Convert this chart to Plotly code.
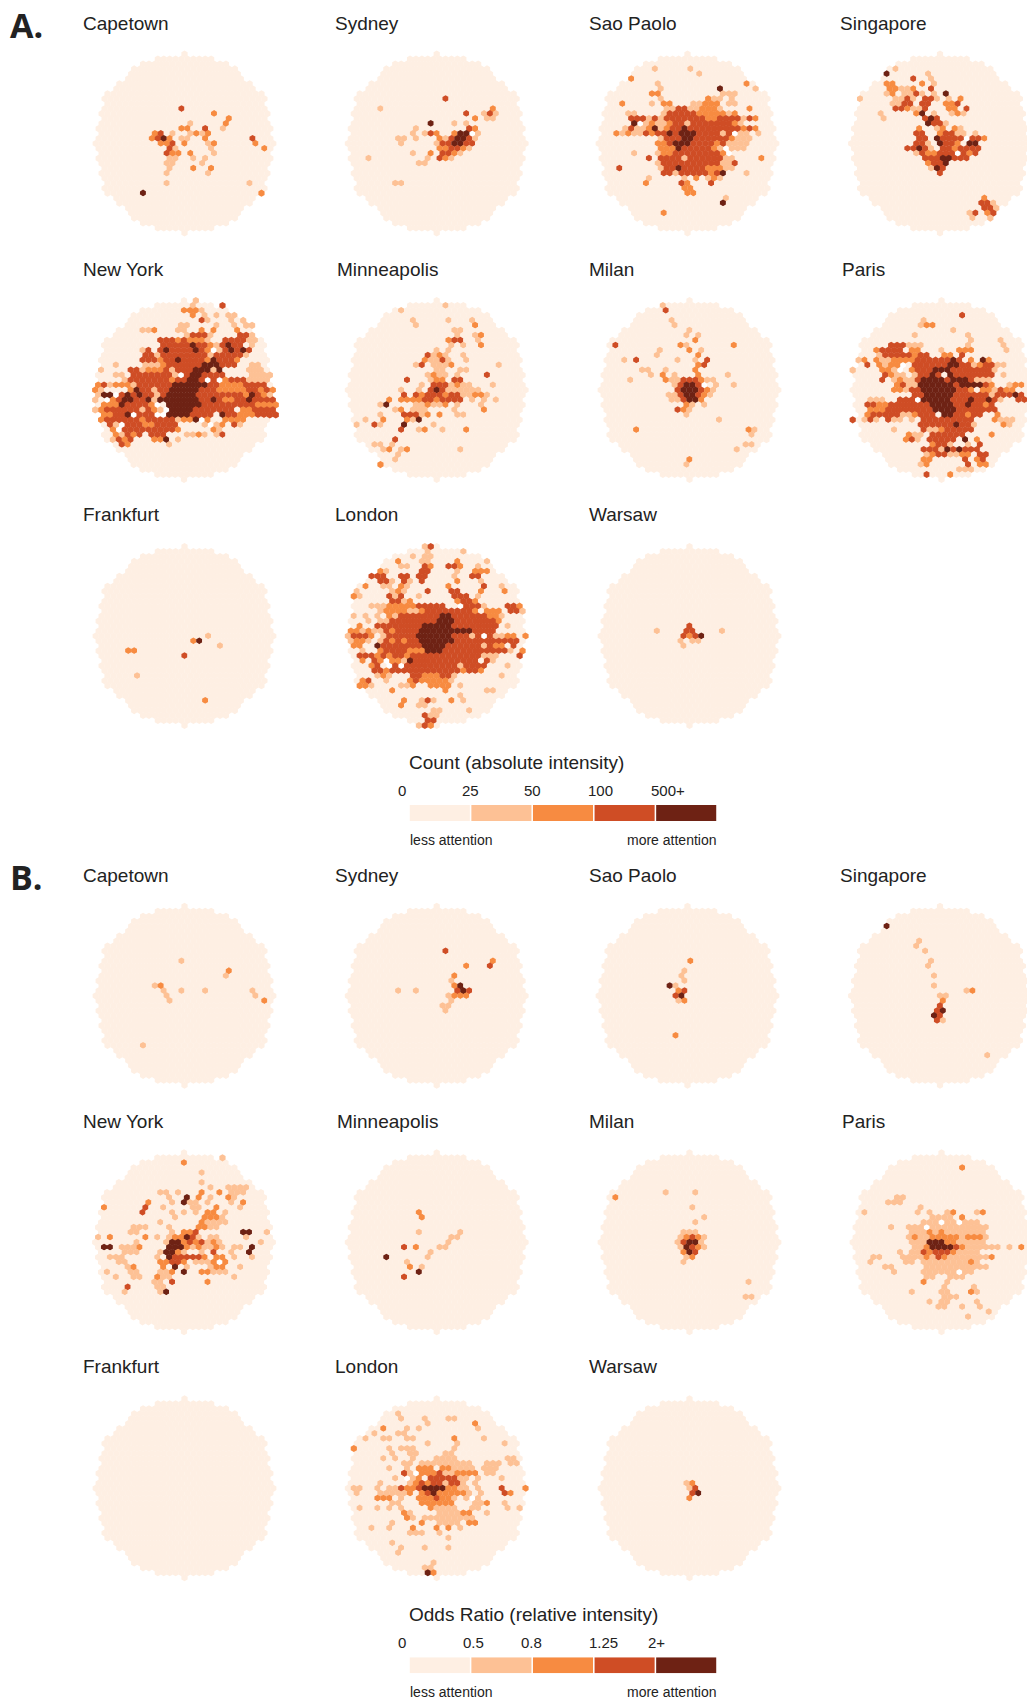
import plotly.graph_objects as go

W, H = 1027, 1701
FONT = "Liberation Sans"
INK = "#222222"
COLOURS = {"0": "#FEEFE3", "1": "#FDC195", "2": "#F78B41", "3": "#CF4D25", "4": "#6E2214"}

# hexes per row of the disc, from the middle row outward
ROW_COUNTS = [31, 30, 29, 30, 29, 28, 29, 28, 27, 28, 27, 24, 23, 20, 19, 18, 15, 10, 1]

# cells: (row, column, classes) ; 1..4 = colour class, . = background, w = empty
A_CAPETOWN = [(-7,-1,"3"),(-6,5,"2"),(-5,7,"2"),(-4,1,"1"),(-4,7,"2"),(-3,-1,"22"),(-3,3,"3"),(-3,6,"1"),
 (-2,-5,"23.1"),(-2,1,"1212"),(-1,-6,"2342"),(-1,-1,"11"),(-1,3,"2"),(-1,11,"3"),(0,-4,"223.2"),(0,4,"12"),(0,12,"2"),
 (1,-3,"31"),(1,4,"1"),(1,13,"2"),(2,-3,"322"),(2,1,"2"),(2,5,"1"),(3,-3,"11"),(3,1,"1"),(3,3,"1"),(4,-3,"11"),(4,3,"1"),
 (5,-3,"1"),(5,1,"2"),(5,4,"2"),(6,-3,"1"),(6,4,"1"),(8,-3,"1"),(8,11,"1"),(10,-7,"4"),(10,13,"2")]
A_SYDNEY = [(-9,1,"3"),(-7,-10,"1"),(-7,9,"2"),(-6,5,"3"),(-6,8,"1"),(-6,9,"31"),(-5,6,"2"),(-5,8,"11"),(-4,-1,"4"),(-4,3,"1"),(-4,5,"1"),
 (-3,-4,"1"),(-3,5,"32"),(-2,-4,"1"),(-2,-2,"132"),(-2,3,"244w1"),(-1,-7,"11"),(-1,-4,"1"),(-1,0,"21344"),(-1,5,"31"),(0,-6,"1"),(0,0,"133443"),(0,6,"3"),
 (1,0,"223334"),(1,4,"21"),(2,-4,"1"),(2,-1,"2"),(2,1,"3321"),(3,-12,"1"),(3,-2,"1"),(3,0,"321"),(4,-3,"11"),(8,-7,"11")]
A_SAOPAOLO = [(-15,-6,"1"),(-15,0,"1"),(-14,2,"1"),(-13,-10,"2"),(-12,-5,"1"),(-12,10,"2"),(-11,-5,"1"),(-11,5,"4"),(-11,11,"1"),
 (-10,-6,"22"),(-10,6,"111"),(-9,-5,"1"),(-9,3,"211"),(-9,7,"1"),(-8,-11,"2"),(-8,-6,"1"),(-8,-4,"22"),(-8,1,"11222"),(-8,7,"11"),
 (-7,-4,"11333"),(-7,0,"1"),(-7,1,"1222"),(-7,5,"1"),(-7,10,"2"),(-6,-10,"11"),(-6,-4,"1333332"),(-6,3,"2222"),(-6,7,"12"),
 (-5,-10,"3331313333333223333332"),(-5,9,"1"),(-4,-9,"4w121"),(-4,-4,"1233133333332"),(-4,9,"1"),
 (-3,-11,"131123"),(-3,-5,"1"),(-3,-6,"4"),(-3,-4,"23343"),(-3,1,"333333"),(-3,7,"332"),(-3,10,"32"),(-2,-12,"21211"),(-2,-7,"32334344433331"),(-2,7,"3w11"),(-2,12,"1"),
 (-1,-5,"1333443333332"),(-1,8,"111"),(0,-5,"22344433332"),(0,6,"31"),(0,8,"111"),(1,-5,"2223"),(1,-2,"4"),(1,-1,"33333"),(1,4,"21w111"),
 (2,-9,"1"),(2,-5,"122333333332"),(2,6,"2"),(2,7,"w"),(3,-7,"3"),(3,-5,"33333"),(3,-1,"1"),(3,0,"33333"),(3,5,"3"),(3,6,"1"),(3,7,"1"),(3,12,"2"),
 (4,-5,"1333333"),(4,2,"33333"),(4,6,"11"),(4,8,"3"),(5,-12,"3"),(5,-5,"1333"),(5,-2,"4"),(5,-1,"33332"),(5,3,"222"),(5,6,"11"),
 (6,-4,"331333"),(6,2,"3322"),(6,5,"34"),(6,10,"1"),(7,-7,"1"),(7,-1,"1"),(7,1,"2"),(7,3,"121"),
 (8,-7,"2"),(8,-1,"3"),(8,0,"2"),(8,4,"3"),(9,-1,"2"),(9,0,"2"),(10,0,"22"),(11,6,"1"),(12,6,"4"),(14,-4,"2")]
A_SINGAPORE = [(-15,-8,"1"),(-14,-9,"4"),(-14,-2,"1"),(-13,-5,"3"),(-13,-2,"1"),(-12,-9,"22"),(-12,-3,"2"),(-12,-1,"1"),
 (-11,-9,"22"),(-11,-7,"11"),(-11,-5,"2"),(-11,-2,"3"),(-10,-9,"1"),(-10,-8,"2"),(-10,-6,"11"),(-10,-4,"3"),(-10,-3,"1"),(-10,-1,"1"),(-10,1,"4"),
 (-9,-14,"1"),(-9,-8,"1"),(-9,-7,"1"),(-9,-6,"31"),(-9,-3,"33"),(-9,-1,"1"),(-9,1,"1"),(-9,3,"2"),(-8,-8,"11"),(-8,-6,"33"),(-8,-3,"33"),(-8,1,"223"),
 (-7,-8,"332"),(-7,-5,"11"),(-7,-3,"3"),(-7,1,"22"),(-7,4,"3"),(-6,-10,"1"),(-6,-4,"24"),(-6,-1,"1"),(-6,2,"121"),(-5,-10,"1"),(-5,-3,"343"),
 (-4,-2,"4331"),(-3,-4,"2"),(-3,-1,"12"),(-3,2,"21"),(-2,-4,"33"),(-2,0,"23311"),(-2,6,"1"),(-1,-4,"33"),(-1,-1,"43333w332"),
 (0,-4,"33"),(0,-2,"1"),(0,0,"4332"),(0,5,"44"),(1,-6,"3343"),(1,-2,"1"),(1,0,"332"),(1,3,"3333"),(2,-4,"1322"),(2,0,"333w333"),(2,5,"2"),
 (3,-3,"333"),(3,0,"44"),(3,2,"333"),(4,-2,"233"),(4,1,"4"),(5,-2,"1"),(5,-1,"43"),(6,0,"3"),
 (11,7,"2"),(12,7,"331"),(13,7,"331"),(14,5,"13"),(14,8,"23"),(15,5,"1"),(15,8,"1")]
A_NEWYORK = [(-18,2,"1"),(-17,1,"1"),(-17,6,"3"),(-16,0,"222"),(-16,3,"1"),(-15,1,"2"),(-15,3,"1"),(-15,5,"1"),(-15,7,"11"),(-14,3,"31"),(-14,8,"1"),(-14,10,"1"),
 (-13,-1,"11"),(-13,5,"1"),(-13,8,"1"),(-13,10,"11"),(-12,-7,"112"),(-12,-1,"11"),(-12,3,"2"),(-12,5,"2"),(-12,9,"2"),(-11,0,"1333"),(-11,4,"1"),(-11,9,"331"),
 (-10,-4,"33323"),(-10,1,"2221"),(-10,7,"3333"),(-10,11,"11"),(-9,-4,"33333433"),(-9,4,"21"),(-9,6,"3433"),(-9,11,"1"),
 (-8,-7,"1"),(-8,-6,"3"),(-8,-4,"34333343"),(-8,4,"2w1"),(-8,7,"34343"),(-7,-7,"33"),(-7,-5,"1"),(-7,-4,"333333"),(-7,2,"332"),(-7,4,"1"),(-7,5,"33333"),(-7,10,"1"),
 (-6,-7,"33"),(-6,-5,"32"),(-6,-3,"33"),(-6,-1,"4"),(-6,0,"3333"),(-6,4,"24"),(-6,6,"3332"),(-5,-12,"1"),(-5,-7,"1"),(-5,-6,"112"),(-5,-3,"3333"),(-5,1,"33"),(-5,3,"44"),(-5,5,"4333"),(-5,11,"11"),
 (-4,-14,"1"),(-4,-9,"33"),(-4,-7,"1"),(-4,-6,"222"),(-4,-3,"3"),(-4,-2,"1"),(-4,-1,"333"),(-4,2,"44"),(-4,4,"4"),(-4,5,"1"),(-4,6,"4"),(-4,11,"111"),
 (-3,-12,"11"),(-3,-9,"3333333"),(-3,-2,"1w"),(-3,0,"3"),(-3,1,"44"),(-3,3,"33"),(-3,5,"33"),(-3,11,"1111"),(-2,-10,"1"),(-2,-9,"3333333233"),(-2,1,"44"),(-2,3,"3"),(-2,4,"w3w2"),(-2,8,"3"),(-2,9,"33"),(-2,11,"1111"),
 (-1,-15,"231"),(-1,-12,"22"),(-1,-10,"21"),(-1,-8,"33333"),(-1,-3,"3"),(-1,-2,"444444"),(-1,4,"3"),(-1,5,"3"),(-1,6,"2222"),(-1,10,"3333"),
 (0,-15,"21"),(0,-9,"2"),(0,-8,"4"),(0,-7,"33"),(0,-5,"1"),(0,-4,"33"),(0,-2,"44444"),(0,3,"33"),(0,5,"3222"),(0,9,"2233"),(0,12,"3"),(0,13,"23"),(0,15,"2"),
 (1,-15,"1"),(1,-14,"44"),(1,-12,"w34343"),(1,-6,"3"),(1,-5,"1"),(1,-4,"3"),(1,-3,"44444"),(1,2,"33"),(1,4,"3"),(1,5,"33"),(1,7,"333"),(1,10,"24"),(1,12,"3"),(1,13,"2"),(1,14,"1"),
 (2,-15,"1"),(2,-13,"w"),(2,-12,"23"),(2,-10,"44"),(2,-8,"3"),(2,-7,"34"),(2,-5,"13"),(2,-4,"4"),(2,-3,"444444"),(2,3,"33"),(2,5,"4"),(2,6,"3"),(2,7,"2"),(2,8,"2"),(2,9,"33"),(2,11,"4"),(2,12,"3333"),
 (3,-14,"2"),(3,-13,"22"),(3,-11,"4"),(3,-10,"3333"),(3,-6,"21"),(3,-5,"w"),(3,-3,"44444"),(3,2,"4"),(3,3,"3333"),(3,7,"333"),(3,10,"33"),(3,12,"2222"),
 (4,-15,"1"),(4,-14,"2"),(4,-13,"3333"),(4,-9,"33"),(4,-7,"1"),(4,-6,"3"),(4,-5,"2"),(4,-4,"1w"),(4,-2,"4444"),(4,2,"3333"),(4,6,"33"),(4,8,"3"),(4,10,"22"),(4,12,"3333"),
 (5,-14,"222"),(5,-12,"3333"),(5,-10,"4"),(5,-9,"w3"),(5,-7,"3"),(5,-6,"3"),(5,-5,"ww"),(5,-3,"4444"),(5,1,"333"),(5,4,"3"),(5,6,"4"),(5,7,"33"),(5,9,"222"),(5,12,"3333"),
 (6,-14,"23"),(6,-12,"3333"),(6,-8,"3"),(6,-7,"2"),(6,-6,"33"),(6,-4,"333"),(6,-1,"1"),(6,0,"22"),(6,2,"4"),(6,3,"w"),(6,4,"2"),(6,7,"22"),(6,9,"22"),
 (7,-13,"3"),(7,-12,"1w"),(7,-10,"333"),(7,-7,"22"),(7,-5,"333"),(7,-2,"3"),(7,3,"1"),(7,4,"w"),(7,5,"1"),(7,6,"2"),(7,8,"3"),(7,9,"1"),
 (8,-12,"2"),(8,-11,"w"),(8,-10,"3"),(8,-9,"333"),(8,-6,"33333"),(8,-1,"2"),(8,5,"2"),(8,6,"1"),(9,-12,"2"),(9,-11,"1"),(9,-10,"3"),(9,-9,"23"),(9,-6,"333"),(9,0,"1"),(9,1,"121"),(9,5,"1"),(9,6,"3"),
 (10,-12,"1"),(10,-11,"3"),(10,-10,"2"),(10,-9,"3"),(10,-5,"22"),(10,-4,"2"),(10,-3,"4"),(10,-1,"1"),(11,-11,"32"),(11,-3,"1")]
A_MINNEAPOLIS = [(-17,1,"1"),(-16,-6,"1"),(-14,-4,"1"),(-14,2,"1"),(-14,6,"1"),(-13,-4,"1"),(-13,6,"2"),(-12,3,"11"),(-11,3,"1"),(-11,6,"1"),(-11,7,"2"),(-10,2,"233"),(-10,7,"1"),
 (-9,2,"1"),(-9,4,"1"),(-9,7,"2"),(-8,0,"1"),(-8,2,"1"),(-7,-2,"3"),(-7,-1,"121"),(-7,4,"1"),(-6,-2,"2"),(-6,-1,"113"),(-6,2,"1"),(-6,5,"1"),(-5,-4,"13"),(-5,-1,"1112"),(-5,10,"1"),
 (-4,0,"11"),(-4,4,"11"),(-3,-2,"12"),(-3,0,"11"),(-3,3,"1"),(-3,8,"3"),(-2,-5,"3"),(-2,-1,"122"),(-2,3,"33"),(-1,-3,"1"),(-1,-1,"333"),(-1,2,"1"),(-1,3,"211"),(-1,9,"1"),
 (0,-6,"1"),(0,-3,"1"),(0,-1,"34"),(0,1,"3"),(0,2,"111111"),(1,-6,"3"),(1,-4,"32333"),(1,1,"2"),(1,2,"3"),(1,3,"31"),(1,5,"1"),(1,6,"221"),
 (2,-8,"2"),(2,-6,"2222"),(2,-2,"33"),(2,0,"2"),(2,1,"3333"),(2,6,"1"),(2,8,"1"),(2,10,"1"),(3,-10,"14"),(3,-4,"112"),(3,-1,"11"),(3,1,"2"),(3,3,"1"),(3,7,"1"),
 (4,-7,"12"),(4,-4,"111"),(4,3,"1"),(4,8,"2"),(5,-10,"1"),(5,-6,"3331"),(5,-2,"2"),(5,0,"2"),(5,3,"11"),(6,-12,"1"),(6,-9,"2"),(6,-5,"214"),(7,-14,"1"),(7,-11,"31"),(7,-6,"4"),(7,-1,"1"),
 (8,-6,"3"),(8,-3,"12"),(8,1,"1"),(8,5,"2"),(10,-7,"3"),(11,-11,"11"),(11,-8,"1"),(12,-9,"12"),(12,-6,"12"),(12,4,"1"),(13,-7,"1"),(14,-7,"1"),(15,-10,"2")]
A_MILAN = [(-17,-5,"1"),(-16,-4,"3"),(-14,-3,"1"),(-13,-3,"1"),(-12,0,"1"),(-11,-1,"1"),(-11,1,"1"),(-10,1,"2"),(-9,-13,"3"),(-9,-2,"21"),(-9,7,"2"),(-8,-5,"1"),(-8,0,"2"),(-8,2,"1"),
 (-7,-6,"1"),(-7,1,"2"),(-6,-11,"1"),(-6,-9,"3"),(-6,-2,"1"),(-6,1,"1"),(-6,3,"3"),(-5,1,"23"),(-4,-8,"11"),(-4,-4,"1"),(-4,1,"2"),(-3,-7,"1"),(-3,-5,"2"),(-3,-3,"1"),(-3,1,"2"),(-3,6,"1"),
 (-2,-10,"1"),(-2,-4,"211333"),(-2,2,"211"),(-1,-3,"13443"),(-1,2,"w"),(-1,4,"1"),(-1,7,"1"),(0,-2,"344432"),(0,4,"1"),(1,-4,"11344321"),(2,-3,"11344"),(2,2,"2"),(3,-1,"21"),(3,2,"1"),
 (4,-2,"321"),(5,-1,"1"),(6,5,"1"),(8,-9,"2"),(8,10,"21"),(9,10,"1"),(11,9,"11"),(12,8,"1"),(14,0,"2"),(15,-1,"1")]
A_PARIS = [(-15,3,"3"),(-14,-3,"1"),(-13,-4,"122"),(-12,2,"1"),(-11,-5,"1"),(-11,4,"1"),(-10,5,"1"),(-10,10,"1"),(-9,-9,"333111"),(-9,4,"1"),(-9,10,"1"),(-8,-11,"2"),(-8,-10,"3333"),(-8,-5,"22"),(-8,0,"1"),(-8,3,"222"),(-8,11,"1"),
 (-7,-11,"1"),(-7,-10,"33333"),(-7,-5,"233"),(-7,0,"22"),(-7,3,"3"),(-6,-14,"12"),(-6,-11,"2"),(-6,-10,"11"),(-6,-8,"22"),(-6,-6,"22"),(-6,-4,"3333"),(-6,0,"3333"),(-6,2,"4"),(-6,3,"3"),(-6,5,"2"),(-6,7,"4"),(-6,8,"2"),
 (-5,-13,"3"),(-5,-11,"2"),(-5,-10,"1"),(-5,-9,"221"),(-5,-7,"w"),(-5,-5,"333333"),(-5,1,"44"),(-5,3,"33"),(-5,5,"1"),(-5,6,"2"),(-5,7,"33"),(-5,9,"11"),
 (-4,-15,"1"),(-4,-10,"221"),(-4,-7,"w"),(-4,-5,"2333"),(-4,-1,"444"),(-4,2,"33"),(-4,4,"33333"),(-4,9,"1"),(-3,-10,"321"),(-3,-7,"1"),(-3,-5,"133"),(-3,-2,"4"),(-3,-1,"3"),(-3,1,"4"),(-3,2,"33333"),(-3,7,"33"),(-3,10,"1"),
 (-2,-10,"3"),(-2,-8,"121"),(-2,-5,"1"),(-2,-4,"3"),(-2,-3,"4444"),(-2,1,"3"),(-2,2,"444"),(-2,5,"3"),(-2,6,"111"),(-1,-8,"2311"),(-1,-4,"4"),(-1,-3,"44444"),(-1,2,"3"),(-1,3,"4444"),(-1,7,"32"),(-1,11,"122"),
 (0,-8,"221"),(0,-5,"33"),(0,-3,"444444"),(0,3,"33"),(0,5,"2"),(0,7,"22"),(0,9,"1"),(0,10,"3"),(0,11,"22"),(1,-5,"3w"),(1,-4,"3"),(1,-3,"44444"),(1,1,"4"),(1,2,"33"),(1,4,"33"),(1,6,"33"),(1,8,"1"),(1,9,"3"),(1,10,"33"),(1,12,"4"),(1,13,"3"),
 (2,-12,"111"),(2,-7,"33"),(2,-5,"3w3"),(2,-3,"44444"),(2,2,"3"),(2,3,"33"),(2,5,"4"),(2,6,"33"),(2,8,"4"),(2,9,"3"),(2,10,"1"),(2,13,"33"),(3,-13,"33"),(3,-11,"2233"),(3,-7,"33"),(3,-5,"333"),(3,-2,"4444"),(3,2,"33"),(3,4,"4"),(3,5,"33"),(3,7,"23"),
 (4,-12,"22"),(4,-10,"2333"),(4,-6,"33"),(4,-4,"333"),(4,-1,"4444"),(4,3,"33"),(4,5,"3333"),(4,9,"3"),(5,-13,"23"),(5,-11,"33"),(5,-9,"33"),(5,-7,"11"),(5,-5,"23"),(5,-3,"33"),(5,0,"44"),(5,2,"3323"),(5,5,"33"),(5,9,"2"),
 (6,-15,"3"),(6,-13,"131"),(6,-9,"311"),(6,-5,"1"),(6,-3,"333"),(6,0,"3"),(6,1,"3"),(6,2,"33"),(6,4,"33"),(6,9,"2"),(6,10,"111"),(7,-4,"3"),(7,-3,"33333"),(7,2,"4"),(7,3,"33"),(7,5,"1"),(7,10,"21"),
 (8,-8,"1"),(8,-3,"3"),(8,-2,"11"),(8,0,"2"),(8,1,"33"),(8,3,"3"),(8,4,"33"),(9,-6,"211"),(9,-2,"333"),(9,1,"333"),(9,8,"2"),(10,-6,"231"),(10,-2,"33"),(10,0,"333"),(10,4,"4"),(10,6,"2"),
 (11,-2,"233"),(11,1,"1"),(11,4,"1"),(11,6,"3"),(12,-3,"333"),(12,0,"14"),(12,2,"3"),(12,3,"4"),(12,4,"33"),(12,6,"3"),(13,-3,"1233"),(13,1,"11"),(13,3,"22"),(13,6,"33"),(14,-3,"22"),(14,4,"3"),(14,6,"23"),
 (15,-4,"1"),(15,-3,"2"),(15,4,"3"),(15,6,"22"),(16,3,"111"),(17,-3,"3"),(17,1,"2")]
A_FRANKFURT = [(3,-10,"22"),(8,-8,"1"),(4,0,"3"),(1,1,"2"),(1,2,"4"),(0,4,"1"),(2,6,"1"),(13,3,"2")]
A_LONDON = [(-18,-2,"13"),(-17,-2,"1"),(-17,4,"1"),(-16,-4,"1"),(-16,-2,"11"),(-15,-7,"2"),(-15,-3,"11"),(-15,3,"2"),(-15,8,"1"),(-14,-6,"11"),(-14,-2,"32"),(-14,2,"33"),(-14,4,"2"),(-14,7,"1"),
 (-13,-10,"21"),(-13,-3,"33"),(-13,3,"1"),(-13,6,"222"),(-12,-11,"333"),(-12,-6,"33"),(-12,-3,"33"),(-12,3,"1"),(-12,6,"33"),(-11,-10,"33"),(-11,-8,"1"),(-11,-6,"31"),(-11,-3,"3"),(-11,3,"2"),(-11,7,"1"),
 (-10,-12,"2"),(-10,-9,"11"),(-10,-6,"21"),(-10,2,"2"),(-10,8,"3"),(-10,11,"1"),(-9,-14,"1"),(-9,-8,"121"),(-9,-2,"3"),(-9,2,"33"),(-9,7,"2"),(-9,11,"2"),(-8,-14,"21"),(-8,-8,"313"),(-8,-3,"1"),(-8,3,"33"),(-8,5,"3"),(-8,7,"1"),
 (-7,-8,"33"),(-7,-6,"12"),(-7,3,"233"),(-7,6,"2"),(-6,-11,"111"),(-6,-8,"2222"),(-6,-4,"233"),(-6,-1,"3"),(-6,0,"33"),(-6,4,"w"),(-6,5,"333"),(-6,8,"1"),(-6,12,"333"),(-6,14,"2"),
 (-5,-10,"1"),(-5,-9,"222"),(-5,-6,"21"),(-5,-4,"1233333333"),(-5,6,"2"),(-5,8,"222"),(-5,12,"33"),(-5,14,"1"),(-4,-14,"1"),(-4,-12,"1"),(-4,-10,"1"),(-4,-8,"21"),(-4,-6,"33333"),(-4,-1,"33"),(-4,1,"44"),(-4,3,"33333"),(-4,8,"322"),(-4,11,"1"),
 (-3,-12,"1"),(-3,-10,"11"),(-3,-8,"33"),(-3,-6,"333333"),(-3,0,"444"),(-3,3,"333333"),(-3,9,"32"),(-2,-13,"2"),(-2,-10,"3333"),(-2,-6,"333"),(-2,-3,"3"),(-2,-2,"44444"),(-2,3,"333333"),(-2,9,"33"),(-2,12,"1"),
 (-1,-15,"22"),(-1,-13,"1211"),(-1,-9,"32"),(-1,-7,"3333"),(-1,-3,"44444444"),(-1,5,"4"),(-1,6,"3333"),(0,-15,"1"),(0,-14,"33"),(0,-12,"32"),(0,-9,"1"),(0,-8,"33333"),(0,-3,"444444"),(0,3,"333"),(0,6,"1"),(0,7,"33"),(0,8,"w"),(0,9,"3"),(0,10,"11"),(0,12,"22"),(0,15,"2"),
 (1,-15,"1"),(1,-14,"22"),(1,-12,"1"),(1,-10,"1"),(1,-9,"3"),(1,-8,"2"),(1,-7,"32"),(1,-5,"33"),(1,-3,"4444"),(1,1,"44"),(1,3,"33333"),(1,8,"3"),(1,9,"33"),(1,11,"33"),(1,13,"3"),
 (2,-14,"22"),(2,-10,"4"),(2,-9,"3333"),(2,-5,"33"),(2,-3,"3"),(2,-2,"4444"),(2,2,"3333"),(2,6,"33"),(2,8,"1"),(2,9,"3"),(2,10,"22"),(2,13,"3"),(3,-13,"1"),(3,-10,"23"),(3,-8,"3333"),(3,-5,"22"),(3,-3,"2"),(3,-2,"444"),(3,1,"333"),(3,4,"3333"),(3,8,"33"),(3,10,"33"),(3,12,"1"),(3,14,"2"),
 (4,-13,"3333"),(4,-10,"2"),(4,-9,"3"),(4,-8,"2"),(4,-7,"33"),(4,-5,"2"),(4,-4,"33"),(4,-2,"33333"),(4,3,"33333"),(4,8,"1"),(4,9,"11"),(4,14,"3"),(5,-13,"2"),(5,-11,"32"),(5,-9,"w"),(5,-8,"22"),(5,-6,"1"),(5,-5,"4"),(5,-4,"333333"),(5,2,"333"),(5,5,"33"),(5,8,"31"),
 (6,-11,"23"),(6,-8,"w3"),(6,-6,"w"),(6,-5,"3"),(6,-4,"3333333"),(6,3,"31"),(6,5,"33"),(6,7,"33"),(6,12,"1"),(7,-11,"33"),(7,-9,"23"),(7,-7,"3333"),(7,-3,"3333333"),(7,4,"2"),(7,5,"33"),(7,7,"2"),
 (8,-10,"121"),(8,-4,"33"),(8,-2,"222"),(8,1,"33"),(8,3,"1"),(8,11,"1"),(9,-13,"23"),(9,-9,"1"),(9,-5,"23"),(9,-3,"22222"),(9,2,"1"),(10,-13,"22"),(10,-11,"1"),(10,-6,"11"),(10,-4,"2"),(10,-1,"222"),(10,2,"2"),(10,4,"1"),
 (11,-8,"2"),(11,1,"2"),(11,8,"11"),(12,4,"1"),(13,-6,"2"),(13,-3,"131"),(13,2,"2"),(13,4,"1"),(14,-6,"2"),(14,-3,"11"),(15,-1,"11"),(15,5,"1"),(16,-2,"3"),(16,-1,"11"),(17,-2,"33"),(18,-3,"1"),(18,-2,"32")]
A_WARSAW = [(-2,0,"3"),(-1,-6,"1"),(-1,-1,"33"),(-1,5,"1"),(0,-1,"3"),(0,0,"2"),(0,1,"3"),(0,2,"4"),(1,-2,"1"),(1,0,"11"),(2,-1,"1")]

B_CAPETOWN = [(-7,-1,"1"),(-5,7,"2"),(-4,7,"1"),(-2,-5,"1"),(-2,-4,"2"),(-1,-4,"1"),(-1,-1,"1"),(-1,3,"1"),(-1,11,"1"),(0,-3,"1"),(0,12,"1"),(1,-3,"1"),(1,13,"2"),(10,-7,"1")]
B_SYDNEY = [(-9,1,"3"),(-7,9,"2"),(-6,9,"3"),(-6,5,"2"),(-4,3,"2"),(-3,2,"1"),(-2,3,"2"),(-2,4,"4"),(-1,-7,"1"),(-1,-4,"1"),(-1,3,"3"),(-1,4,"4"),(-1,5,"3"),(0,2,"1"),(0,3,"222"),(1,2,"1"),(2,1,"11"),(3,1,"1")]
B_SAOPAOLO = [(-7,0,"2"),(-5,-1,"1"),(-4,-1,"1"),(-3,-1,"1"),(-2,-3,"4"),(-2,-2,"1"),(-1,-2,"23"),(0,-2,"34"),(1,-2,"12"),(8,-2,"2")]
B_SINGAPORE = [(-14,-9,"4"),(-11,-4,"1"),(-10,-4,"1"),(-9,-3,"1"),(-7,-2,"1"),(-6,-2,"1"),(-4,-1,"1"),(-2,-1,"1"),(-1,4,"1"),(-1,5,"2"),(0,0,"1"),(0,1,"1"),(1,0,"2"),(2,0,"3"),(3,-1,"3"),(3,0,"4"),(4,-1,"4"),(4,0,"3"),(5,-1,"3"),(5,0,"1"),(12,8,"1")]
B_NEWYORK = [(-17,6,"1"),(-16,0,"2"),(-14,3,"1"),(-12,3,"1"),(-11,4,"1"),(-11,7,"1111"),(-10,-4,"11"),(-10,-1,"1"),(-10,3,"2"),(-10,6,"2"),(-10,8,"111"),(-9,-3,"1"),(-9,0,"4"),(-9,2,"2"),(-9,4,"1"),(-9,7,"2"),(-9,8,"1"),
 (-8,-6,"2"),(-8,-2,"1"),(-8,0,"411"),(-8,4,"1"),(-8,8,"1"),(-8,10,"2"),(-7,-14,"2"),(-7,-7,"3"),(-7,-4,"1"),(-7,1,"11"),(-7,5,"2"),(-7,9,"1"),(-6,-7,"3"),(-6,-2,"1"),(-6,0,"1"),(-6,2,"1"),(-6,4,"2"),(-6,5,"2"),(-6,7,"1"),
 (-5,-2,"1"),(-5,3,"222"),(-5,6,"1"),(-4,-4,"1"),(-4,3,"2"),(-4,4,"1111"),(-3,-9,"111"),(-3,-3,"1"),(-3,2,"22"),(-3,4,"11"),(-2,-9,"11"),(-2,-2,"1"),(-2,0,"223"),(-2,10,"44"),(-2,14,"1"),
 (-1,-15,"1"),(-1,-13,"2"),(-1,-7,"2"),(-1,-5,"1"),(-1,-3,"122"),(-1,0,"431"),(-1,4,"11"),(-1,10,"1"),(0,-8,"1"),(0,-3,"1"),(0,-2,"44"),(0,0,"2"),(0,1,"323"),(0,4,"12"),(0,6,"1"),(0,13,"1"),
 (1,-14,"44"),(1,-11,"1111"),(1,-8,"2"),(1,-3,"444"),(1,0,"2"),(1,1,"12112"),(1,6,"1"),(1,8,"11"),(1,11,"4"),(2,-10,"111"),(2,-4,"1"),(2,-3,"44"),(2,-1,"2"),(2,0,"1"),(2,3,"1"),(2,5,"3"),(2,8,"1"),(2,11,"4"),
 (3,-13,"11"),(3,-11,"1"),(3,-5,"1"),(3,-3,"433333"),(3,3,"2"),(3,5,"22"),(3,8,"1"),(3,11,"1"),(4,-11,"11"),(4,-4,"2"),(4,-3,"233"),(4,0,"2"),(4,2,"1"),(4,3,"11"),(4,5,"2"),(4,6,"w"),(4,7,"2"),
 (5,-10,"12"),(5,-4,"2"),(5,-2,"4"),(5,0,"1"),(5,4,"1"),(5,5,"22"),(5,9,"1"),(6,-13,"1"),(6,-9,"11"),(6,-4,"1"),(6,-3,"1"),(6,-2,"2"),(6,0,"4"),(6,3,"22"),(6,5,"111"),(7,-12,"1"),(7,-9,"11"),(7,-5,"2"),(7,-4,"11"),(7,8,"1"),
 (8,-5,"11"),(8,-2,"3"),(8,4,"2"),(9,-10,"3"),(9,-5,"11"),(10,-10,"1"),(10,-3,"4"),(10,-4,"1")]
B_MINNEAPOLIS = [(-6,-3,"2"),(-5,-3,"2"),(-2,4,"1"),(-1,2,"11"),(0,2,"1"),(1,0,"11"),(2,-1,"1"),(3,-2,"1"),(-2,-3,"1"),(1,-6,"3"),(1,-4,"2"),(3,-9,"4"),(4,-5,"1"),(5,-5,"2"),(5,-3,"1"),(6,-3,"4"),(7,-6,"3")]
B_MILAN = [(-9,-13,"2"),(-10,-4,"1"),(-10,1,"1"),(-7,0,"1"),(-5,2,"1"),(-4,1,"1"),(-2,-1,"111"),(-1,-2,"1"),(-1,-1,"2321"),(0,-2,"1"),(0,-1,"3441"),(1,-2,"1"),(1,-1,"4321"),(2,-1,"243"),(3,-1,"12"),(4,-1,"1"),(8,10,"1"),(11,9,"11")]
B_PARIS = [(-15,3,"2"),(-9,-8,"11"),(-8,-9,"111"),(-7,-4,"1"),(-6,-13,"1"),(-6,-4,"1"),(-6,-2,"1"),(-6,1,"1"),(-6,2,"2"),(-6,6,"1"),(-6,7,"2"),(-5,-2,"1111"),(-5,3,"2"),
 (-4,-3,"111w11w111"),(-3,-9,"1"),(-3,-6,"111w"),(-3,-2,"1111111111"),(-2,-5,"111"),(-2,-2,"2"),(-2,-1,"1"),(-2,0,"2"),(-2,1,"1111111"),(-1,-6,"11"),(-1,-5,"2"),(-1,-4,"11"),(-1,-2,"22"),(-1,0,"22"),(-1,2,"2"),(-1,3,"1"),(-1,4,"222"),(-1,7,"1"),
 (0,-5,"11"),(0,-3,"1"),(0,-2,"4"),(0,-1,"44"),(0,1,"22"),(0,3,"11111"),(1,-5,"1"),(1,-4,"1"),(1,-3,"2"),(1,-2,"44"),(1,0,"44"),(1,2,"3"),(1,3,"2"),(1,4,"1111"),(1,8,"11"),(1,11,"1"),(1,13,"2"),
 (2,-7,"1"),(2,-5,"11"),(2,-3,"3"),(2,-2,"2"),(2,-1,"33"),(2,1,"3"),(2,2,"2"),(2,3,"1111"),(3,-12,"11"),(3,-7,"11"),(3,-5,"11"),(3,-3,"2"),(3,-2,"1"),(3,-1,"3"),(3,0,"2"),(3,1,"1111111"),(3,8,"2"),
 (4,-12,"1"),(4,-6,"11"),(4,-3,"1111"),(4,1,"1111"),(4,5,"2"),(4,6,"1"),(5,-10,"11"),(5,-3,"1111111"),(5,4,"111"),(5,7,"1"),(6,-8,"1"),(6,-3,"111111"),(6,3,"w"),(6,4,"11"),(7,-3,"11"),(7,1,"111"),(8,-3,"2"),(8,1,"1"),
 (9,0,"1"),(9,5,"1"),(10,-5,"1"),(10,0,"11"),(10,5,"21"),(11,0,"111"),(12,-2,"1"),(12,0,"11"),(12,6,"1"),(13,-1,"11"),(13,3,"1"),(13,6,"1"),(14,8,"1"),(15,4,"1")]
B_FRANKFURT = []
B_LONDON = [(-15,-7,"1"),(-14,-6,"1"),(-14,-2,"1"),(-14,2,"11"),(-13,-2,"1"),(-13,6,"2"),(-12,-9,"2"),(-12,-5,"1"),(-12,-3,"1"),(-12,7,"1"),(-11,-11,"1"),(-11,-7,"11"),(-10,-12,"1"),(-10,-9,"11"),(-10,-5,"11"),(-10,3,"2"),(-10,8,"1"),
 (-9,-2,"1"),(-9,3,"1"),(-9,11,"1"),(-8,-14,"2"),(-8,-8,"1"),(-8,-6,"111"),(-8,3,"1"),(-7,-8,"1"),(-7,-5,"11"),(-7,1,"11"),(-6,-9,"1"),(-6,-7,"1"),(-6,-4,"1"),(-6,0,"1111"),(-6,12,"11"),(-5,-6,"11"),(-5,-3,"111"),(-5,0,"1111"),(-5,4,"11"),(-5,8,"111"),(-5,12,"11"),
 (-4,-8,"1"),(-4,-5,"1"),(-4,-3,"222"),(-4,1,"22"),(-4,3,"1111"),(-4,8,"111"),(-3,-6,"3"),(-3,-5,"1w"),(-3,-3,"222"),(-3,0,"3"),(-3,1,"11"),(-3,3,"2222"),(-3,8,"11"),(-2,-7,"1"),(-2,-5,"w1"),(-2,-3,"2"),(-2,-1,"3"),(-2,0,"3333"),(-2,4,"11"),(-2,7,"1"),(-2,11,"1"),
 (-1,-10,"1"),(-1,-5,"1"),(-1,-4,"2"),(-1,-3,"32"),(-1,-1,"33"),(-1,1,"1"),(-1,2,"33"),(-1,4,"1"),(-1,6,"1"),(0,-14,"11"),(0,-10,"1"),(0,-8,"11"),(0,-6,"3"),(0,-5,"22"),(0,-3,"3"),(0,-2,"444"),(0,1,"4"),(0,2,"22"),(0,4,"11"),(0,7,"1"),(0,11,"3"),(0,15,"2"),
 (1,-14,"1"),(1,-10,"11"),(1,-8,"11"),(1,-6,"1"),(1,-5,"2"),(1,-3,"2"),(1,-2,"3"),(1,-1,"42"),(1,1,"2222"),(1,5,"1"),(1,7,"1"),(1,11,"32"),(2,-10,"222"),(2,-6,"1"),(2,-3,"2222"),(2,0,"3"),(2,1,"22"),(2,3,"1"),(2,5,"1"),(2,6,"w"),(2,7,"1"),
 (3,-8,"11"),(3,-3,"2222"),(3,1,"22"),(3,6,"11"),(3,8,"2"),(3,11,"1"),(4,-13,"1"),(4,-10,"1"),(4,-8,"1"),(4,-6,"1"),(4,-1,"2"),(4,0,"1111"),(4,6,"11"),(4,12,"1"),(4,14,"1"),(5,-6,"2"),(5,-5,"1"),(5,0,"1111"),(5,4,"22"),(5,8,"1"),
 (6,-5,"2"),(6,-4,"1"),(6,-2,"111"),(6,1,"11111"),(6,6,"1"),(7,-8,"1"),(7,-3,"2"),(7,0,"1111"),(7,5,"22"),(8,-11,"1"),(8,-8,"1"),(8,-4,"2"),(8,0,"2"),(8,2,"2"),(8,4,"1"),(9,-5,"111"),(9,0,"1"),
 (10,2,"1"),(11,-8,"1"),(12,-6,"1"),(12,-2,"1"),(12,2,"1"),(13,-7,"1"),(15,-1,"1"),(16,-2,"11"),(17,-2,"4"),(17,-1,"2"),(16,-1,"1")]
B_WARSAW = [(-1,-1,"1"),(-1,0,"2"),(0,0,"1"),(0,1,"3"),(1,0,"3"),(1,1,"4"),(2,0,"2")]

ROW_1 = ["Capetown", "Sydney", "Sao Paolo", "Singapore"]
ROW_2 = ["New York", "Minneapolis", "Milan", "Paris"]
ROW_3 = ["Frankfurt", "London", "Warsaw"]
PANEL_CELLS_A = [A_CAPETOWN, A_SYDNEY, A_SAOPAOLO, A_SINGAPORE, A_NEWYORK, A_MINNEAPOLIS, A_MILAN, A_PARIS, A_FRANKFURT, A_LONDON, A_WARSAW]
PANEL_CELLS_B = [B_CAPETOWN, B_SYDNEY, B_SAOPAOLO, B_SINGAPORE, B_NEWYORK, B_MINNEAPOLIS, B_MILAN, B_PARIS, B_FRANKFURT, B_LONDON, B_WARSAW]

LEGEND_A = ["0", "25", "50", "100", "500+"]
LEGEND_B = ["0", "0.5", "0.8", "1.25", "2+"]
LEGEND_CLASSES = ["0", "1", "2", "3", "4"]
LEGEND_SPAN = [1, 1, 1, 1, 1]

# ---- layout in pixels
DX, DY = 5.92, 4.97
HEX = 7.15
CENTRES = [(184.5,143.5),(436.7,143.5),(687.5,143.5),(940,143.5),(184,390),(436.7,390),(689.5,390),(941.5,390),(184.5,636),(436.7,636),(689.5,636)]
TITLE_X = [82,334,588,839,82,336,588,841,82,334,588]
TITLE_Y = [23,23,23,23,269,269,269,269,514,514,514]
OFFSET_B = 852.3
LEG_TICK_A = [402,470,532,600,668]
LEG_TICK_B = [402,473,531,603,656]

fig = go.Figure()
ann = []
n_ax = 0

def add_text(text, x, y, size, anchor="left", weight=None, family=FONT):
    f = dict(family=family, size=size, color=INK)
    if weight:
        f["weight"] = weight
    ann.append(dict(text=text, x=x / W, y=1 - y / H, xref="paper", yref="paper", showarrow=False,
                    xanchor=anchor, yanchor="middle", font=f, borderpad=0))

layout_axes = {}

def new_axes(x0, x1, y0, y1, xr, yr):
    global n_ax
    n_ax += 1
    s = "" if n_ax == 1 else str(n_ax)
    common = dict(visible=False, showgrid=False, zeroline=False, fixedrange=True)
    layout_axes["xaxis" + s] = dict(domain=[x0 / W, x1 / W], range=xr, anchor="y" + s, **common)
    layout_axes["yaxis" + s] = dict(domain=[1 - y1 / H, 1 - y0 / H], range=yr, anchor="x" + s, **common)
    return "x" + s, "y" + s

def panel(cells, cx, cy):
    grid = {}
    for r in range(-18, 19):
        n = ROW_COUNTS[abs(r)]
        lo = -(n // 2)
        for i in range(n):
            grid[(r, lo + i)] = "0"
    for r, q0, s in cells:
        for i, ch in enumerate(s):
            if ch == ".":
                continue
            if ch == "w":
                grid.pop((r, q0 + i), None)
            else:
                grid[(r, q0 + i)] = ch
    xs = [q + (0.5 if r % 2 else 0) for r, q in grid]
    ys = [r for r, q in grid]
    cols = [COLOURS[v] for v in grid.values()]
    left = min(100, cx)
    right = min(100, W - cx)
    xa, ya = new_axes(cx - left, cx + right, cy - 100, cy + 100, [-left / DX, right / DX], [100 / DY, -100 / DY])
    fig.add_trace(go.Scatter(x=xs, y=ys, mode="markers", xaxis=xa, yaxis=ya, hoverinfo="skip",
                             marker=dict(symbol="hexagon", size=HEX, color=cols, line=dict(width=0))))

def legend(title, ticks, tick_x, dy):
    add_text(title, 408, 762.5 + dy, 19)
    for t, x in zip(ticks, tick_x):
        add_text(t, x, 790 + dy, 15, anchor="center")
    add_text("less attention", 408.5, 840 + dy, 14)
    add_text("more attention", 717.5, 840 + dy, 14, anchor="right")
    xa, ya = new_axes(409, 717, 805 + dy, 821 + dy, [-0.5, 4.5], [0, 1])
    fig.add_trace(go.Bar(x=list(range(5)), y=LEGEND_SPAN, width=0.975, xaxis=xa, yaxis=ya, hoverinfo="skip",
                         marker=dict(color=[COLOURS[c] for c in LEGEND_CLASSES], line=dict(width=0))))

names = ROW_1 + ROW_2 + ROW_3
for part, cells_all, dy in (("A", PANEL_CELLS_A, 0), ("B", PANEL_CELLS_B, OFFSET_B)):
    add_text(part + ".", 9, 25 + dy, 34, weight=700, family="Open Sans")
    for name, cells, (cx, cy), tx, ty in zip(names, cells_all, CENTRES, TITLE_X, TITLE_Y):
        panel(cells, cx, cy + dy)
        add_text(name, tx, ty + dy, 19)

legend("Count (absolute intensity)", LEGEND_A, LEG_TICK_A, 0)
legend("Odds Ratio (relative intensity)", LEGEND_B, LEG_TICK_B, OFFSET_B)

fig.update_layout(width=W, height=H, autosize=False, margin=dict(l=0, r=0, t=0, b=0, pad=0),
                  paper_bgcolor="white", plot_bgcolor="rgba(0,0,0,0)", showlegend=False,
                  annotations=ann, **layout_axes)
fig.write_html("out.html", config=dict(displayModeBar=False),
               post_script="document.body.style.margin='0';document.documentElement.style.overflow='hidden';")
